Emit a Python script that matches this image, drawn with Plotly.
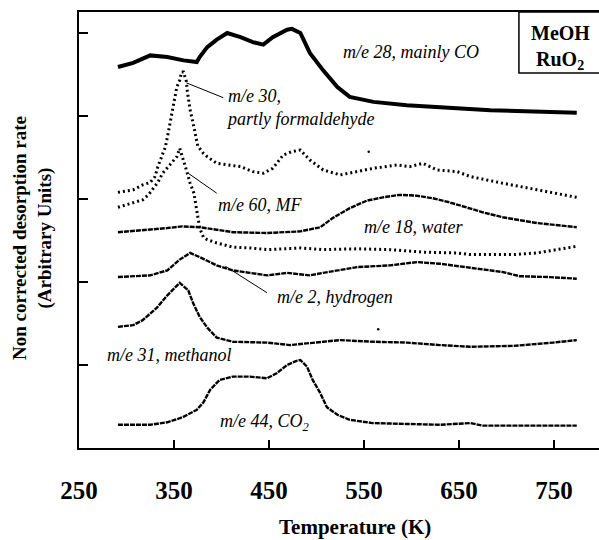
import plotly.graph_objects as go

# ---- data (temperature in K, signal in arbitrary units) ----
t_28 = [291, 307, 325, 343, 360, 374, 377, 385, 395, 406, 420, 433, 444, 454, 469, 474, 483, 488, 493, 507, 522, 535, 560, 595, 630, 683, 774]
s_28 = [4.59, 4.64, 4.73, 4.71, 4.67, 4.65, 4.71, 4.83, 4.92, 5.00, 4.95, 4.89, 4.86, 4.95, 5.04, 5.05, 5.00, 4.89, 4.76, 4.55, 4.35, 4.23, 4.17, 4.13, 4.11, 4.07, 4.04]

t_30 = [291, 307, 317, 325, 330, 333, 337, 341, 344, 346, 349, 351, 353, 356, 358, 360, 363, 364, 367, 370, 373, 375, 381, 385, 395, 406, 420, 433, 444, 454, 465, 474, 483, 493, 507, 525, 543, 560, 585, 598, 612, 627, 648, 662, 696, 732, 749, 774]
s_30 = [3.08, 3.11, 3.17, 3.20, 3.27, 3.39, 3.51, 3.63, 3.80, 3.92, 4.07, 4.19, 4.35, 4.43, 4.53, 4.53, 4.42, 4.30, 4.07, 3.92, 3.75, 3.64, 3.55, 3.51, 3.43, 3.41, 3.39, 3.33, 3.31, 3.37, 3.53, 3.57, 3.59, 3.47, 3.35, 3.29, 3.33, 3.37, 3.41, 3.39, 3.43, 3.35, 3.33, 3.27, 3.19, 3.11, 3.07, 3.02]

t_60 = [291, 307, 317, 323, 328, 333, 338, 344, 349, 353, 356, 359, 362, 367, 371, 373, 375, 377, 381, 385, 395, 412, 430, 448, 465, 483, 507, 543, 577, 612, 648, 662, 707, 732, 753, 774]
s_60 = [2.90, 2.95, 2.99, 3.05, 3.13, 3.20, 3.31, 3.39, 3.47, 3.51, 3.61, 3.51, 3.39, 3.19, 3.07, 2.93, 2.78, 2.65, 2.54, 2.51, 2.47, 2.42, 2.41, 2.39, 2.40, 2.41, 2.39, 2.40, 2.39, 2.36, 2.35, 2.33, 2.33, 2.35, 2.39, 2.43]

t_18 = [291, 325, 343, 359, 377, 395, 412, 448, 483, 504, 517, 535, 553, 570, 588, 605, 622, 640, 658, 675, 696, 732, 774]
s_18 = [2.60, 2.63, 2.65, 2.67, 2.66, 2.63, 2.60, 2.59, 2.61, 2.66, 2.77, 2.89, 2.98, 3.02, 3.05, 3.04, 3.01, 2.96, 2.90, 2.84, 2.78, 2.71, 2.66]

t_2 = [291, 325, 343, 356, 367, 377, 395, 412, 430, 448, 469, 493, 507, 543, 577, 606, 630, 662, 696, 714, 743, 774]
s_2 = [2.06, 2.08, 2.14, 2.27, 2.35, 2.30, 2.20, 2.14, 2.11, 2.08, 2.11, 2.08, 2.11, 2.18, 2.20, 2.24, 2.22, 2.17, 2.12, 2.07, 2.06, 2.04]

t_31 = [291, 307, 317, 332, 343, 356, 365, 370, 377, 385, 395, 412, 448, 472, 507, 525, 560, 595, 630, 662, 707, 732, 749, 774]
s_31 = [1.46, 1.48, 1.54, 1.69, 1.84, 1.99, 1.90, 1.75, 1.58, 1.45, 1.33, 1.28, 1.27, 1.24, 1.28, 1.30, 1.28, 1.27, 1.24, 1.22, 1.23, 1.25, 1.27, 1.30]

t_44 = [291, 325, 343, 359, 374, 381, 388, 398, 412, 430, 448, 458, 469, 479, 483, 490, 496, 504, 511, 522, 535, 559, 595, 630, 662, 675, 774]
s_44 = [0.28, 0.28, 0.31, 0.37, 0.46, 0.55, 0.70, 0.82, 0.86, 0.86, 0.84, 0.90, 1.00, 1.05, 1.06, 0.98, 0.82, 0.66, 0.49, 0.40, 0.34, 0.30, 0.29, 0.28, 0.30, 0.27, 0.27]

# isolated stray points
t_stray = [555, 565]
s_stray = [3.57, 1.43]

x_ticks = [250, 350, 450, 550, 650, 750]
y_ticks = [1, 2, 3, 4, 5]

SERIF = "Liberation Serif"

fig = go.Figure()

fig.add_trace(go.Scatter(x=t_28, y=s_28, mode="lines", line=dict(color="black", width=4), showlegend=False))
for tx, sy in [(t_30, s_30), (t_60, s_60)]:
    fig.add_trace(go.Scatter(x=tx, y=sy, mode="lines", line=dict(color="black", width=3, dash="2px,3px"), showlegend=False))
for tx, sy in [(t_18, s_18), (t_2, s_2), (t_31, s_31), (t_44, s_44)]:
    fig.add_trace(go.Scatter(x=tx, y=sy, mode="lines", line=dict(color="black", width=2.4, dash="5px,1px"), showlegend=False))
fig.add_trace(go.Scatter(x=t_stray, y=s_stray, mode="markers", marker=dict(color="black", size=2.5), showlegend=False))

# leader lines
leaders = [((363, 4.40), (402, 4.22)), ((365, 3.31), (395, 3.07)), ((404, 2.19), (448, 1.87))]
for (xa, ya), (xb, yb) in leaders:
    fig.add_shape(type="line", x0=xa, y0=ya, x1=xb, y1=yb, line=dict(color="black", width=1))

labels = [
    ("m/e 28, mainly CO", 599, 4.77, "center"),
    ("m/e 30,<br>partly formaldehyde", 403, 4.10, "left"),
    ("m/e 60, MF", 441, 2.93, "center"),
    ("m/e 18, water", 602, 2.66, "center"),
    ("m/e 2, hydrogen", 519, 1.82, "center"),
    ("m/e 31, methanol", 345, 1.12, "center"),
    ("m/e 44, CO<sub>2</sub>", 446, 0.31, "center"),
]
for txt, xx, yy, anc in labels:
    fig.add_annotation(x=xx, y=yy, text="<i>" + txt + "</i>", showarrow=False,
                       xanchor=anc, yanchor="middle", align="left",
                       font=dict(family=SERIF, size=18, color="black"))

# box with MeOH / RuO2
fig.add_shape(type="rect", xref="paper", yref="paper", x0=0.846, x1=1.02, y0=0.860, y1=1.0,
              line=dict(color="black", width=1.5), fillcolor="white", layer="above")
fig.add_annotation(xref="paper", yref="paper", x=0.925, y=0.952, text="<b>MeOH</b>", showarrow=False,
                   xanchor="center", yanchor="middle", font=dict(family=SERIF, size=20, color="black"))
fig.add_annotation(xref="paper", yref="paper", x=0.925, y=0.888, text="<b>RuO<sub>2</sub></b>", showarrow=False,
                   xanchor="center", yanchor="middle", font=dict(family=SERIF, size=20, color="black"))

# axis titles
fig.add_annotation(xref="paper", yref="paper", x=(355 - 79) / 520, y=(448 - 527) / 436,
                   text="<b>Temperature (K)</b>", showarrow=False, xanchor="center", yanchor="middle",
                   font=dict(family=SERIF, size=21, color="black"))
fig.add_annotation(xref="paper", yref="paper", x=(32 - 79) / 520, y=(448 - 238) / 436,
                   text="<b>Non corrected desorption rate<br>(Arbitrary Units)</b>", showarrow=False,
                   textangle=-90, xanchor="center", yanchor="middle",
                   font=dict(family=SERIF, size=19, color="black"))

fig.update_layout(
    width=599, height=540,
    margin=dict(l=79, r=0, t=12, b=92),
    plot_bgcolor="white", paper_bgcolor="white",
    xaxis=dict(range=[250, 797.4], tickvals=x_ticks, ticktext=[str(v) for v in x_ticks],
               ticks="inside", ticklen=8, tickwidth=1.5, tickcolor="black",
               showline=True, linewidth=2, linecolor="black", mirror=True,
               showgrid=False, zeroline=False, ticklabelstandoff=19,
               tickfont=dict(family=SERIF, size=25, color="black", weight="bold")),
    yaxis=dict(range=[0, 5.253], tickvals=y_ticks, showticklabels=False,
               ticks="inside", ticklen=9, tickwidth=1.5, tickcolor="black",
               showline=True, linewidth=2, linecolor="black", mirror=False,
               showgrid=False, zeroline=False),
)

fig.write_html("out.html")
